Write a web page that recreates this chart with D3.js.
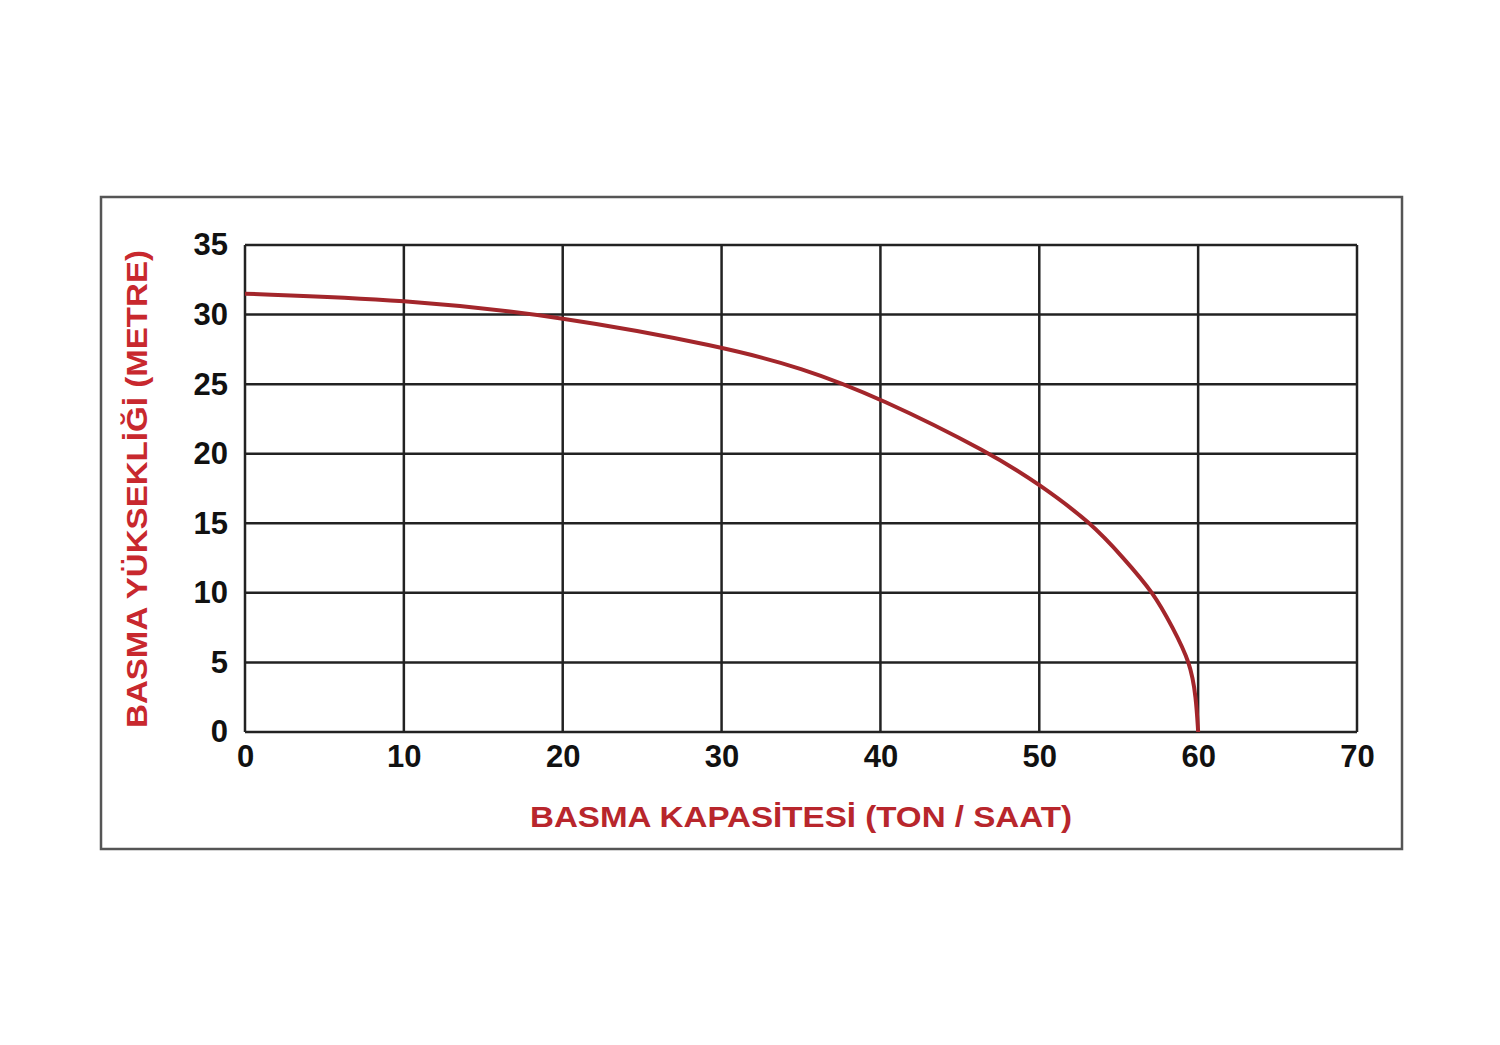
<!DOCTYPE html>
<html>
<head>
<meta charset="utf-8">
<script src="https://cdn.jsdelivr.net/npm/d3@7"></script>
<style>
  body { margin: 0; background: #fff; }
  svg { display: block; font-family: "Liberation Sans", Arial, sans-serif; }
</style>
</head>
<body>
<svg id="chart"></svg>
<script>
// pump curve: capacity (ton/saat) vs head (metre)
const capacity = [0, 10, 20, 30, 35, 40, 47, 50, 53.3, 55.3, 57.2, 58.4, 59.5, 59.87, 60];
const head     = [31.5, 31.1, 29.85, 27.7, 26.2, 24.0, 20, 17.8, 15, 12.5, 10, 7.5, 5, 2.5, 0];
const xTicks = [0, 10, 20, 30, 40, 50, 60, 70];
const yTicks = [0, 5, 10, 15, 20, 25, 30, 35];
const xTitle = 'BASMA KAPASİTESİ (TON / SAAT)';
const yTitle = 'BASMA YÜKSEKLİĞİ (METRE)';

const width = 1500;
const height = 1045;
const margin = { top: 245, right: 143, bottom: 313, left: 245 };
const innerW = width - margin.left - margin.right;
const innerH = height - margin.top - margin.bottom;

const svg = d3.select('#chart')
  .attr('width', width)
  .attr('height', height);

// outer frame
svg.append('rect')
  .attr('x', 101)
  .attr('y', 197)
  .attr('width', 1301)
  .attr('height', 652)
  .attr('fill', 'none')
  .attr('stroke', '#555')
  .attr('stroke-width', 2.5);

const g = svg.append('g')
  .attr('transform', `translate(${margin.left},${margin.top})`);

const x = d3.scaleLinear().domain([0, 70]).range([0, innerW]);
const y = d3.scaleLinear().domain([0, 35]).range([innerH, 0]);

// grid
g.append('g')
  .selectAll('line')
  .data(xTicks)
  .enter().append('line')
  .attr('x1', d => x(d)).attr('x2', d => x(d))
  .attr('y1', 0).attr('y2', innerH)
  .attr('stroke', '#222')
  .attr('stroke-width', 2.5);

g.append('g')
  .selectAll('line')
  .data(yTicks)
  .enter().append('line')
  .attr('x1', 0).attr('x2', innerW)
  .attr('y1', d => y(d)).attr('y2', d => y(d))
  .attr('stroke', '#222')
  .attr('stroke-width', 2.5);

// axis labels
const xAxis = g.append('g')
  .attr('transform', `translate(0,${innerH})`)
  .call(d3.axisBottom(x).tickValues(xTicks).tickSize(0).tickPadding(13));
xAxis.select('.domain').remove();
xAxis.selectAll('text')
  .attr('font-size', 31)
  .attr('font-weight', 'bold')
  .attr('fill', '#111')
  .attr('font-family', '"Liberation Sans", Arial, sans-serif');

const yAxis = g.append('g')
  .call(d3.axisLeft(y).tickValues(yTicks).tickSize(0).tickPadding(17));
yAxis.select('.domain').remove();
yAxis.selectAll('text')
  .attr('font-size', 31)
  .attr('font-weight', 'bold')
  .attr('fill', '#111')
  .attr('font-family', '"Liberation Sans", Arial, sans-serif');

// curve (basis smooths out reading noise in the points)
const line = d3.line()
  .x((d, i) => x(capacity[i]))
  .y(d => y(d))
  .curve(d3.curveBasis);

g.append('path')
  .datum(head)
  .attr('fill', 'none')
  .attr('stroke', '#a3262b')
  .attr('stroke-width', 4)
  .attr('d', line);

// titles
svg.append('text')
  .attr('x', 801)
  .attr('y', 827)
  .attr('text-anchor', 'middle')
  .attr('font-size', 30)
  .attr('font-weight', 'bold')
  .attr('fill', '#b8262c')
  .attr('textLength', 542)
  .attr('lengthAdjust', 'spacingAndGlyphs')
  .text(xTitle);

svg.append('text')
  .attr('transform', 'translate(147,489) rotate(-90)')
  .attr('text-anchor', 'middle')
  .attr('font-size', 29)
  .attr('font-weight', 'bold')
  .attr('fill', '#c8282e')
  .attr('textLength', 478)
  .attr('lengthAdjust', 'spacingAndGlyphs')
  .text(yTitle);
</script>
</body>
</html>
